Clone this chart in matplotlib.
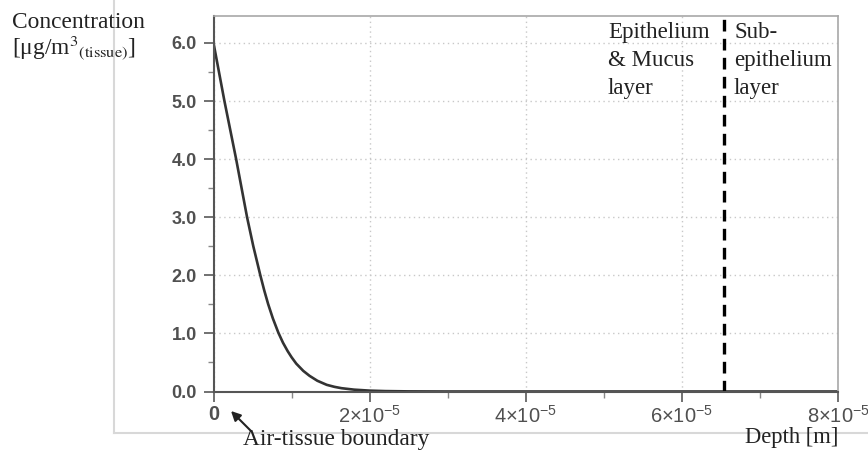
import numpy as np
import matplotlib.pyplot as plt
from matplotlib.lines import Line2D
from matplotlib.ticker import FixedLocator, MultipleLocator, FuncFormatter

# values (depth in m, concentration in ug/m3)
depth = [0.0, 0.07e-5, 0.14e-5, 0.215e-5, 0.29e-5, 0.36e-5, 0.43e-5, 0.51e-5,
         0.60e-5, 0.65e-5, 0.70e-5, 0.76e-5, 0.83e-5, 0.89e-5, 0.95e-5,
         1.00e-5, 1.06e-5, 1.15e-5, 1.23e-5, 1.33e-5, 1.45e-5, 1.55e-5,
         1.64e-5, 1.80e-5, 2.00e-5, 2.20e-5, 2.50e-5, 3.00e-5, 8.00e-5]
conc = [6.0, 5.5, 5.0, 4.5, 4.0, 3.5, 3.0, 2.5,
        2.0, 1.74, 1.505, 1.26, 1.015, 0.84, 0.695,
        0.59, 0.48, 0.355, 0.27, 0.185, 0.115, 0.08,
        0.057, 0.032, 0.015, 0.007, 0.002, 0.0, 0.0]

boundary_x = 6.54e-5
xticks = [0, 2e-5, 4e-5, 6e-5, 8e-5]
yticks = [0.0, 1.0, 2.0, 3.0, 4.0, 5.0, 6.0]

serif = "Liberation Serif"
sans = "Liberation Sans"
plt.rcParams["mathtext.fontset"] = "custom"
plt.rcParams["mathtext.rm"] = sans
plt.rcParams["mathtext.it"] = sans

fig = plt.figure(figsize=(8.68, 4.54), dpi=100)
ax = fig.add_axes([213.5 / 868, 1 - 391.5 / 454, 624.5 / 868, 375.5 / 454])

ax.plot(depth, conc, color="#333333", lw=1.9, solid_joinstyle="round")
ax.axvline(boundary_x, color="black", lw=2.4, dashes=(3.5, 2.2))

ax.set_xlim(0, 8e-5)
ax.set_ylim(0, 6.464)

ax.xaxis.set_major_locator(FixedLocator(xticks))
ax.xaxis.set_minor_locator(MultipleLocator(1e-5))
ax.yaxis.set_major_locator(FixedLocator(yticks))
ax.yaxis.set_minor_locator(MultipleLocator(0.5))


def xfmt(v, pos):
    if v == 0:
        return "0"
    return r"$%d{\times}10^{-5}$" % round(v / 1e-5)


ax.xaxis.set_major_formatter(FuncFormatter(xfmt))
ax.yaxis.set_major_formatter(FuncFormatter(lambda v, p: "%.1f" % v))

for lab in ax.get_yticklabels():
    lab.set_fontfamily(sans)
    lab.set_fontsize(13)
    lab.set_fontweight("bold")
    lab.set_color("#505050")
for lab in ax.get_xticklabels():
    lab.set_fontfamily(sans)
    lab.set_fontsize(14.5)
    lab.set_fontweight("bold")
    lab.set_color("#505050")

ax.tick_params(which="major", direction="out", length=7, width=1.3,
               color="#666666", pad=5)
ax.tick_params(axis="x", which="major", pad=3)
ax.tick_params(which="minor", direction="out", length=4, width=1.0,
               color="#888888")

ax.grid(True, which="major", ls=(0, (1, 2.5)), color="#c8c8c8", lw=1.0)
ax.set_axisbelow(True)

for s in ["left", "bottom"]:
    ax.spines[s].set_color("#555555")
    ax.spines[s].set_linewidth(1.5)
for s in ["top", "right"]:
    ax.spines[s].set_color("#a8a8a8")
    ax.spines[s].set_linewidth(1.2)

# layer labels
fig.text(608 / 868, 1 - 22 / 454, "Epithelium\n& Mucus\nlayer",
         family=serif, fontsize=16.5, color="#222222", va="top", ha="left",
         linespacing=1.45)
fig.text(734 / 868, 1 - 22 / 454, "Sub-\nepithelium\nlayer",
         family=serif, fontsize=16.5, color="#222222", va="top", ha="left",
         linespacing=1.45)

# y axis title
fig.text(12 / 868, 1 - 22 / 454, "Concentration", family=serif, fontsize=16.8,
         color="#222222", va="center", ha="left")
fig.text(12 / 868, 1 - 48 / 454,
         r"[μg/m$^3$$_{\rm (tissue)}$]", family=serif, fontsize=16.8,
         color="#222222", va="center", ha="left", math_fontfamily="stix")

fig.text(838 / 868, 1 - 438 / 454, "Depth [m]", family=serif, fontsize=16.3,
         color="#222222", va="center", ha="right")

fig.text(243 / 868, 1 - 440 / 454, "Air-tissue boundary", family=serif,
         fontsize=16.8, color="#222222", va="center", ha="left")
ax.annotate("", xy=(231, 454 - 411), xycoords="figure pixels",
            xytext=(251, 454 - 431), textcoords="figure pixels",
            arrowprops=dict(arrowstyle="-|>", color="#222222", lw=1.5,
                            shrinkA=0, shrinkB=0, mutation_scale=14))

# light frame lines around the figure
fx = 114 / 868
fy = 1 - 433 / 454
fig.add_artist(Line2D([fx, fx], [1, fy], transform=fig.transFigure,
                      color="#d8d8d8", lw=1.5))
fig.add_artist(Line2D([fx, 1], [fy, fy], transform=fig.transFigure,
                      color="#d8d8d8", lw=1.5))

fig.savefig("out.png", dpi=100)
